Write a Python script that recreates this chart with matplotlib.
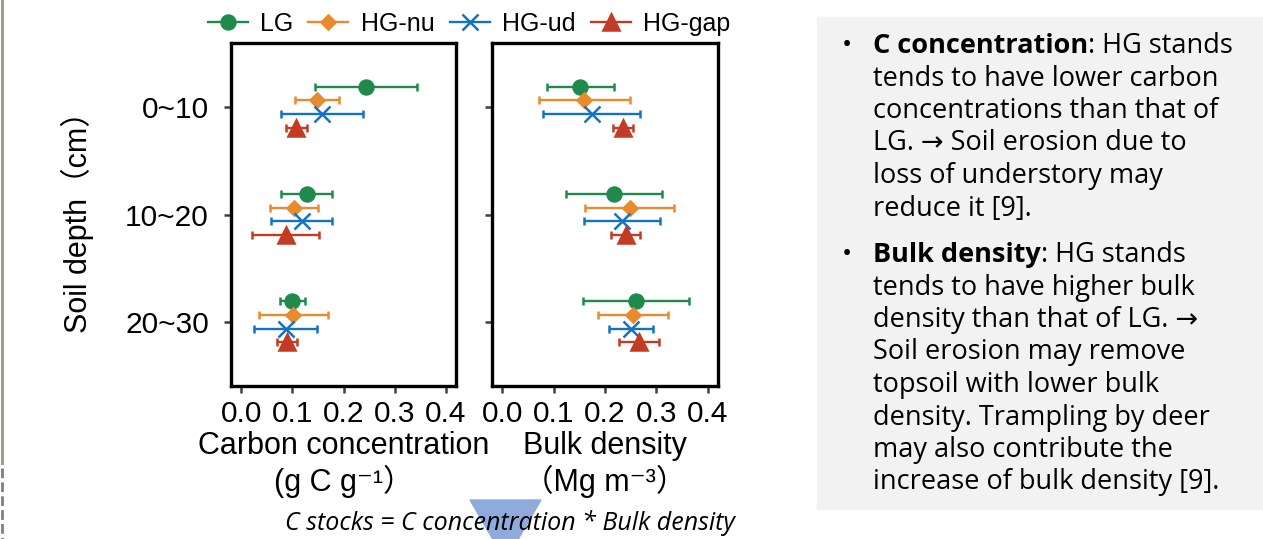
import numpy as np
import matplotlib
matplotlib.use("Agg")
import matplotlib.pyplot as plt
from matplotlib.lines import Line2D
from matplotlib.patches import Rectangle, Polygon

plt.rcParams["font.family"] = ["Liberation Sans", "Noto Sans CJK KR", "DejaVu Sans"]

# -----------------------------
# Data (mean and error per depth)
# -----------------------------
depths = ["0~10", "10~20", "20~30"]
groups = ["LG", "HG-nu", "HG-ud", "HG-gap"]

carbon_mean = [
    [0.244, 0.128, 0.100],   # LG
    [0.148, 0.104, 0.102],   # HG-nu
    [0.158, 0.118, 0.087],   # HG-ud
    [0.108, 0.087, 0.089],   # HG-gap
]
carbon_err = [
    [0.100, 0.050, 0.025],
    [0.043, 0.047, 0.068],
    [0.081, 0.059, 0.062],
    [0.020, 0.065, 0.020],
]

bulk_mean = [
    [0.152, 0.217, 0.260],
    [0.160, 0.248, 0.254],
    [0.174, 0.234, 0.251],
    [0.235, 0.240, 0.266],
]
bulk_err = [
    [0.065, 0.093, 0.103],
    [0.088, 0.086, 0.068],
    [0.094, 0.074, 0.043],
    [0.020, 0.029, 0.039],
]

xticks = [0.0, 0.1, 0.2, 0.3, 0.4]

colors = ["#1f8a4c", "#e88a2e", "#1273c2", "#c23b22"]
markers = ["o", "D", "x", "^"]
msizes = [10, 7.5, 11, 11]
offsets = [-0.19, -0.065, 0.065, 0.19]

W, H = 1263, 539
fig = plt.figure(figsize=(W / 100, H / 100), dpi=100)


def fx(px):
    return px / W


def fy(py):
    return 1 - py / H


ax1 = fig.add_axes([fx(231), fy(386), fx(225), (386 - 43) / H])
ax2 = fig.add_axes([fx(492), fy(386), fx(226), (386 - 43) / H])

ypos = np.arange(len(depths))

for ax, means, errs in [(ax1, carbon_mean, carbon_err), (ax2, bulk_mean, bulk_err)]:
    for i in range(len(groups)):
        ax.errorbar(means[i], ypos + offsets[i], xerr=errs[i],
                    fmt=markers[i], color=colors[i], ecolor=colors[i],
                    ms=msizes[i], mew=1.8, elinewidth=1.7,
                    capsize=3, capthick=1.7, linestyle="none")
    ax.set_xlim(-0.02, 0.42)
    ax.set_ylim(2.6, -0.6)
    ax.set_xticks(xticks)
    ax.set_xticklabels([f"{t:.1f}" for t in xticks])
    ax.set_yticks(ypos)
    for s in ax.spines.values():
        s.set_linewidth(2.4)
    ax.tick_params(axis="both", length=5, width=1.8, color="#404040",
                   labelsize=21.5)
    ax.tick_params(axis="x", pad=5)
    ax.tick_params(axis="y", pad=11)

ax1.set_yticklabels(depths)
ax2.set_yticklabels([])

ax1.set_xlabel("Carbon concentration\n(g C g⁻¹）", fontsize=22,
               linespacing=1.15, labelpad=2)
ax2.set_xlabel("Bulk density\n（Mg m⁻³）", fontsize=22,
               linespacing=1.15, labelpad=2)
fig.text(fx(77), fy(215), "Soil depth（cm）", rotation=90, fontsize=22,
         ha="center", va="center")

# legend on top
handles = [Line2D([0], [0], color=colors[i], marker=markers[i],
                  ms=msizes[i], mew=1.8, lw=1.7) for i in range(len(groups))]
fig.legend(handles, groups, loc="center", bbox_to_anchor=(fx(469), fy(24)),
           ncol=4, frameon=False, fontsize=18, handlelength=1.6,
           handletextpad=0.5, columnspacing=0.6, borderaxespad=0)

# formula below the panels, over a pointing triangle
tri = Polygon([[fx(470), fy(500)], [fx(541), fy(500)], [fx(505.5), fy(561)]],
              closed=True, transform=fig.transFigure, color="#8faadc",
              zorder=0, clip_on=False)
fig.patches.append(tri)
fig.text(fx(510), fy(523), "C stocks = C concentration * Bulk density",
         family=["Open Sans", "DejaVu Sans"], style="italic", fontsize=18,
         ha="center", va="center", zorder=2)

# side note box
fig.patches.append(Rectangle((fx(817), fy(509)), 1 - fx(817), (509 - 17) / H,
                             transform=fig.transFigure, color="#f2f2f2",
                             zorder=0))

note_font = ["Open Sans", "DejaVu Sans"]
note_size = 19.5
bullets = [
    ("C concentration", ": HG stands",
     ["tends to have lower carbon",
      "concentrations than that of",
      "LG. → Soil erosion due to",
      "loss of understory may",
      "reduce it [9]."], 53),
    ("Bulk density", ": HG stands",
     ["tends to have higher bulk",
      "density than that of LG. →",
      "Soil erosion may remove",
      "topsoil with lower bulk",
      "density. Trampling by deer",
      "may also contribute the",
      "increase of bulk density [9]."], 262),
]
renderer = fig.canvas.get_renderer()
line_step = 32.5
for head, rest, lines, y0 in bullets:
    fig.text(fx(842), fy(y0), "•", family=note_font, fontsize=note_size,
             va="baseline")
    t = fig.text(fx(873), fy(y0), head, family=note_font, fontsize=note_size,
                 weight="bold", va="baseline")
    wpx = t.get_window_extent(renderer).width
    fig.text(fx(873 + wpx), fy(y0), rest, family=note_font,
             fontsize=note_size, va="baseline")
    for k, ln in enumerate(lines):
        fig.text(fx(873), fy(y0 + line_step * (k + 1)), ln, family=note_font,
                 fontsize=note_size, va="baseline")

# slide edge marks on the left
fig.add_artist(Line2D([fx(1.5), fx(1.5)], [fy(0), fy(463)],
                      transform=fig.transFigure, color="#a29d88", lw=2.2))
fig.add_artist(Line2D([fx(2), fx(2)], [fy(468), fy(539)],
                      transform=fig.transFigure, color="#7f7f7f", lw=2,
                      dashes=(3.5, 1.5)))

fig.savefig("out.png", dpi=100)
